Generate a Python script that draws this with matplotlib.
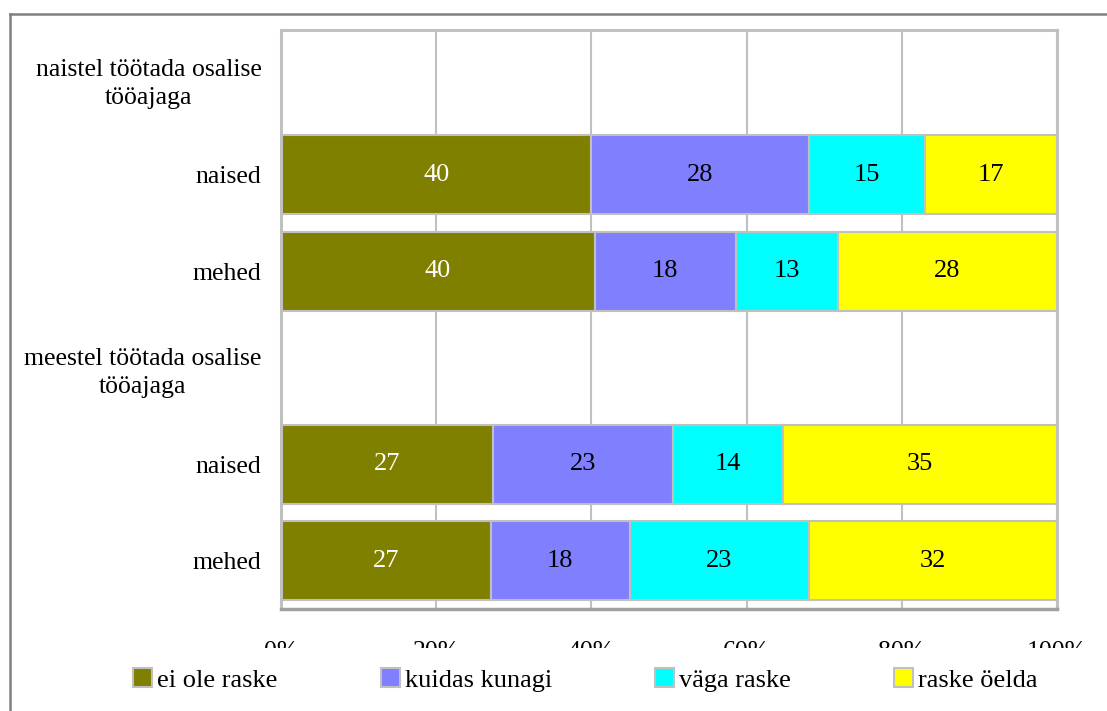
import numpy as np
import matplotlib
matplotlib.use('Agg')
import matplotlib.pyplot as plt
from matplotlib.patches import Rectangle
from matplotlib.lines import Line2D

plt.rcParams['font.family'] = ['Liberation Serif', 'DejaVu Serif']

# Data (header rows have no bars)
categories = ['naistel töötada osalise\ntööajaga', 'naised', 'mehed',
              'meestel töötada osalise\ntööajaga', 'naised', 'mehed']
series_names = ['ei ole raske', 'kuidas kunagi', 'väga raske', 'raske öelda']
ei_ole_raske = [np.nan, 40, 40, np.nan, 27, 27]
kuidas_kunagi = [np.nan, 28, 18, np.nan, 23, 18]
vaga_raske = [np.nan, 15, 13, np.nan, 14, 23]
raske_oelda = [np.nan, 17, 28, np.nan, 35, 32]
colors = ['#808000', '#8080ff', '#00ffff', '#ffff00']
text_colors = ['white', 'black', 'black', 'black']
xtick_vals = [0, 20, 40, 60, 80, 100]

FS = 18.5
W, H = 1107, 711
fig = plt.figure(figsize=(W / 100, H / 100), dpi=100)
ax = fig.add_axes([281 / W, (H - 609) / H, 776 / W, 579 / H])

raw = np.array([ei_ole_raske, kuidas_kunagi, vaga_raske, raske_oelda], dtype=float)
totals = np.nansum(raw, axis=0)
pct = np.where(totals > 0, raw / np.where(totals > 0, totals, 1) * 100, np.nan)

y = np.arange(len(categories))
left = np.zeros(len(categories))
handles = []
for k in range(4):
    widths = np.nan_to_num(pct[k])
    bars = ax.barh(y, widths, left=left, height=0.82, color=colors[k],
                   edgecolor='#c0c0c0', linewidth=1.5, label=series_names[k], zorder=2)
    handles.append(bars)
    for i in range(len(categories)):
        if not np.isnan(raw[k, i]):
            ax.text(left[i] + widths[i] / 2, y[i], f'{int(raw[k, i])}',
                    ha='center', va='center', color=text_colors[k], fontsize=FS + 0.5, zorder=3)
    left += widths

ax.set_xlim(0, 100)
ax.set_ylim(len(categories) - 0.5, -0.5)
ax.set_yticks(y)
ax.set_yticklabels(categories, fontsize=FS, multialignment='center', linespacing=1.35)
ax.set_xticks(xtick_vals)
ax.set_xticklabels([f'{v}%' for v in xtick_vals], fontsize=FS)
ax.tick_params(axis='y', length=0, pad=14)
ax.tick_params(axis='x', length=0, pad=23)
ax.xaxis.grid(True, color='#c0c0c0', linewidth=1.5)
ax.set_axisbelow(True)
for side in ['left', 'right', 'top']:
    ax.spines[side].set_color('#c0c0c0')
    ax.spines[side].set_linewidth(2.2)
ax.spines['bottom'].set_color('#a0a0a0')
ax.spines['bottom'].set_linewidth(2.5)

# white band hiding the lower half of the x tick labels (as in the original)
fig.patches.append(Rectangle((12 / W, 0), 1, (H - 648) / H, transform=fig.transFigure,
                             facecolor='white', edgecolor='none', zorder=1))
# outer chart border
fig.lines.append(Line2D([10 / W, 10 / W], [0, 1 - 14 / H], transform=fig.transFigure,
                        color='#808080', linewidth=1.8, zorder=2))
fig.lines.append(Line2D([10 / W, 1], [1 - 14 / H, 1 - 14 / H], transform=fig.transFigure,
                        color='#808080', linewidth=1.8, zorder=2))

leg = fig.legend(handles, series_names, loc='center left', bbox_to_anchor=(133 / W, 1 - 680 / H),
                 ncol=4, frameon=False, fontsize=19, handlelength=0.72, handleheight=0.72,
                 handletextpad=0.2, columnspacing=3.9, borderaxespad=0, borderpad=0)
leg.set_zorder(5)

fig.savefig('out.png', dpi=100)
